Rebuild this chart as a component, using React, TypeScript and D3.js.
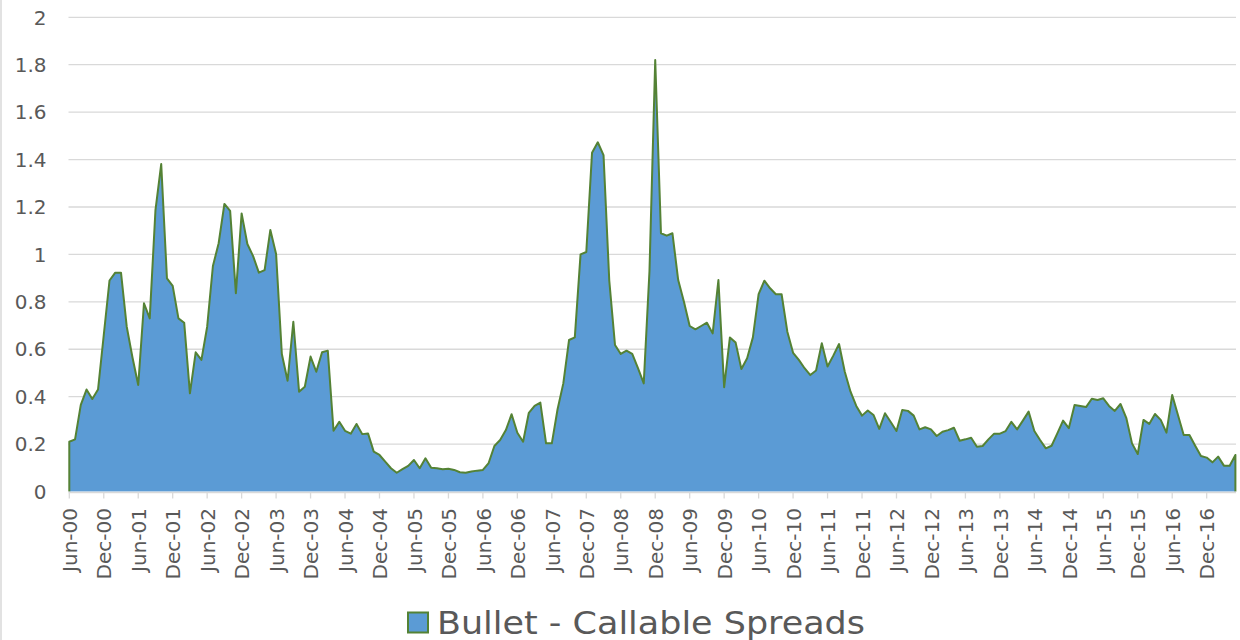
import React from 'react';
import * as d3 from 'd3';

// Monthly spread values, Jun-00 .. May-17
const spreadValues: number[] = [
  0.21, 0.22, 0.365, 0.43, 0.39, 0.43, 0.66, 0.89, 0.923, 0.923, 0.695, 0.565,
  0.449, 0.794, 0.73, 1.187, 1.381, 0.899, 0.867, 0.73, 0.712, 0.414, 0.587, 0.555,
  0.695, 0.951, 1.047, 1.213, 1.184, 0.836, 1.173, 1.044, 0.993, 0.923, 0.934, 1.103,
  1.002, 0.58, 0.467, 0.716, 0.421, 0.442, 0.569, 0.505, 0.587, 0.594, 0.256, 0.294,
  0.256, 0.244, 0.285, 0.242, 0.245, 0.168, 0.154, 0.126, 0.098, 0.079, 0.094, 0.108,
  0.133, 0.098, 0.14, 0.1, 0.098, 0.094, 0.096, 0.091, 0.081, 0.079, 0.084, 0.088,
  0.091, 0.12, 0.192, 0.217, 0.259, 0.326, 0.248, 0.21, 0.332, 0.361, 0.375, 0.203,
  0.203, 0.347, 0.456, 0.639, 0.65, 1.0, 1.01, 1.429, 1.473, 1.419, 0.89, 0.618,
  0.58, 0.594, 0.58, 0.52, 0.456, 0.93, 1.82, 1.089, 1.079, 1.089, 0.892, 0.8,
  0.698, 0.684, 0.698, 0.712, 0.667, 0.892, 0.44, 0.65, 0.628, 0.517, 0.562, 0.65,
  0.832, 0.889, 0.857, 0.832, 0.832, 0.674, 0.585, 0.555, 0.52, 0.491, 0.51, 0.625,
  0.527, 0.573, 0.622, 0.505, 0.421, 0.361, 0.32, 0.342, 0.323, 0.264, 0.33, 0.293,
  0.255, 0.344, 0.34, 0.32, 0.262, 0.271, 0.262, 0.234, 0.252, 0.259, 0.269, 0.214,
  0.22, 0.227, 0.189, 0.192, 0.22, 0.244, 0.244, 0.255, 0.294, 0.262, 0.299, 0.337,
  0.255, 0.217, 0.182, 0.193, 0.245, 0.299, 0.267, 0.365, 0.361, 0.356, 0.391, 0.386,
  0.393, 0.361, 0.34, 0.369, 0.311, 0.203, 0.158, 0.302, 0.285, 0.327, 0.302, 0.248,
  0.407, 0.323, 0.238, 0.238, 0.193, 0.15, 0.143, 0.123, 0.147, 0.109, 0.109, 0.154,
];

// Every 6th month gets a labelled tick, starting at the first month
const tickEvery = 6;
const xTickLabels: string[] = [
  'Jun-00', 'Dec-00', 'Jun-01', 'Dec-01', 'Jun-02', 'Dec-02', 'Jun-03', 'Dec-03',
  'Jun-04', 'Dec-04', 'Jun-05', 'Dec-05', 'Jun-06', 'Dec-06', 'Jun-07', 'Dec-07',
  'Jun-08', 'Dec-08', 'Jun-09', 'Dec-09', 'Jun-10', 'Dec-10', 'Jun-11', 'Dec-11',
  'Jun-12', 'Dec-12', 'Jun-13', 'Dec-13', 'Jun-14', 'Dec-14', 'Jun-15', 'Dec-15',
  'Jun-16', 'Dec-16',
];

const yTickValues: number[] = [0, 0.2, 0.4, 0.6, 0.8, 1, 1.2, 1.4, 1.6, 1.8, 2];
const yTickLabels: string[] = ['0', '0.2', '0.4', '0.6', '0.8', '1', '1.2', '1.4', '1.6', '1.8', '2'];

const seriesName = 'Bullet - Callable Spreads';

const W = 1240;
const H = 640;
const FONT = '"DejaVu Sans", Verdana, sans-serif';
const TEXT = '#595959';
const FILL = '#5B9BD5';
const STROKE = '#548235';
const GRID = '#D9D9D9';

export default function App() {
  const x = d3.scaleLinear().domain([0, spreadValues.length - 1]).range([69.3, 1235.4]);
  const y = d3.scaleLinear().domain([0, 2]).range([491.5, 17.3]);

  const area = d3
    .area<number>()
    .x((_, i) => x(i))
    .y0(y(0))
    .y1((d) => y(d));

  const outlinePts: [number, number][] = [
    [0, 0],
    ...spreadValues.map((v, i) => [i, v] as [number, number]),
    [spreadValues.length - 1, 0],
  ];
  const outline = d3
    .line<[number, number]>()
    .x((d) => x(d[0]))
    .y((d) => y(d[1]));

  const gridX0 = 68.5;
  const gridX1 = 1236;

  return (
    <svg
      width={W}
      height={H}
      style={{ position: 'absolute', left: 0, top: 0, background: '#fff' }}
      fontFamily={FONT}
    >
      <rect x={0} y={0} width={W} height={H} fill="#fff" />
      <line x1={1} x2={1} y1={0} y2={H} stroke={GRID} strokeWidth={1.5} />

      {/* gridlines */}
      {yTickValues.filter((v) => v > 0).map((v) => (
        <line key={v} x1={gridX0} x2={gridX1} y1={y(v)} y2={y(v)} stroke={GRID} strokeWidth={1.3} />
      ))}

      {/* area */}
      <path d={area(spreadValues) || ''} fill={FILL} />
      <path d={outline(outlinePts) || ''} fill="none" stroke={STROKE} strokeWidth={2} strokeLinejoin="round" />

      {/* x axis */}
      <line x1={gridX0} x2={gridX1} y1={y(0) + 1} y2={y(0) + 1} stroke={GRID} strokeWidth={1.5} />
      {xTickLabels.map((lab, k) => {
        const xi = x(k * tickEvery);
        return (
          <g key={lab}>
            <line x1={xi} x2={xi} y1={y(0) + 1} y2={y(0) + 7} stroke={GRID} strokeWidth={1.3} />
            <text
              transform={`translate(${xi + 0.5},${508}) rotate(-90)`}
              textAnchor="end"
              dy="0.36em"
              fontSize={20}
              fill={TEXT}
            >
              {lab}
            </text>
          </g>
        );
      })}

      {/* y axis labels */}
      {yTickValues.map((v, k) => (
        <text key={v} x={46.5} y={y(v)} dy="0.36em" textAnchor="end" fontSize={20} fill={TEXT}>
          {yTickLabels[k]}
        </text>
      ))}

      {/* legend */}
      <rect x={408} y={612.5} width={20} height={20} fill={FILL} stroke={STROKE} strokeWidth={2} />
      <text
        x={437}
        y={633.5}
        fontSize={31.5}
        fill={TEXT}
        textLength={428}
        lengthAdjust="spacingAndGlyphs"
      >
        {seriesName}
      </text>
    </svg>
  );
}
